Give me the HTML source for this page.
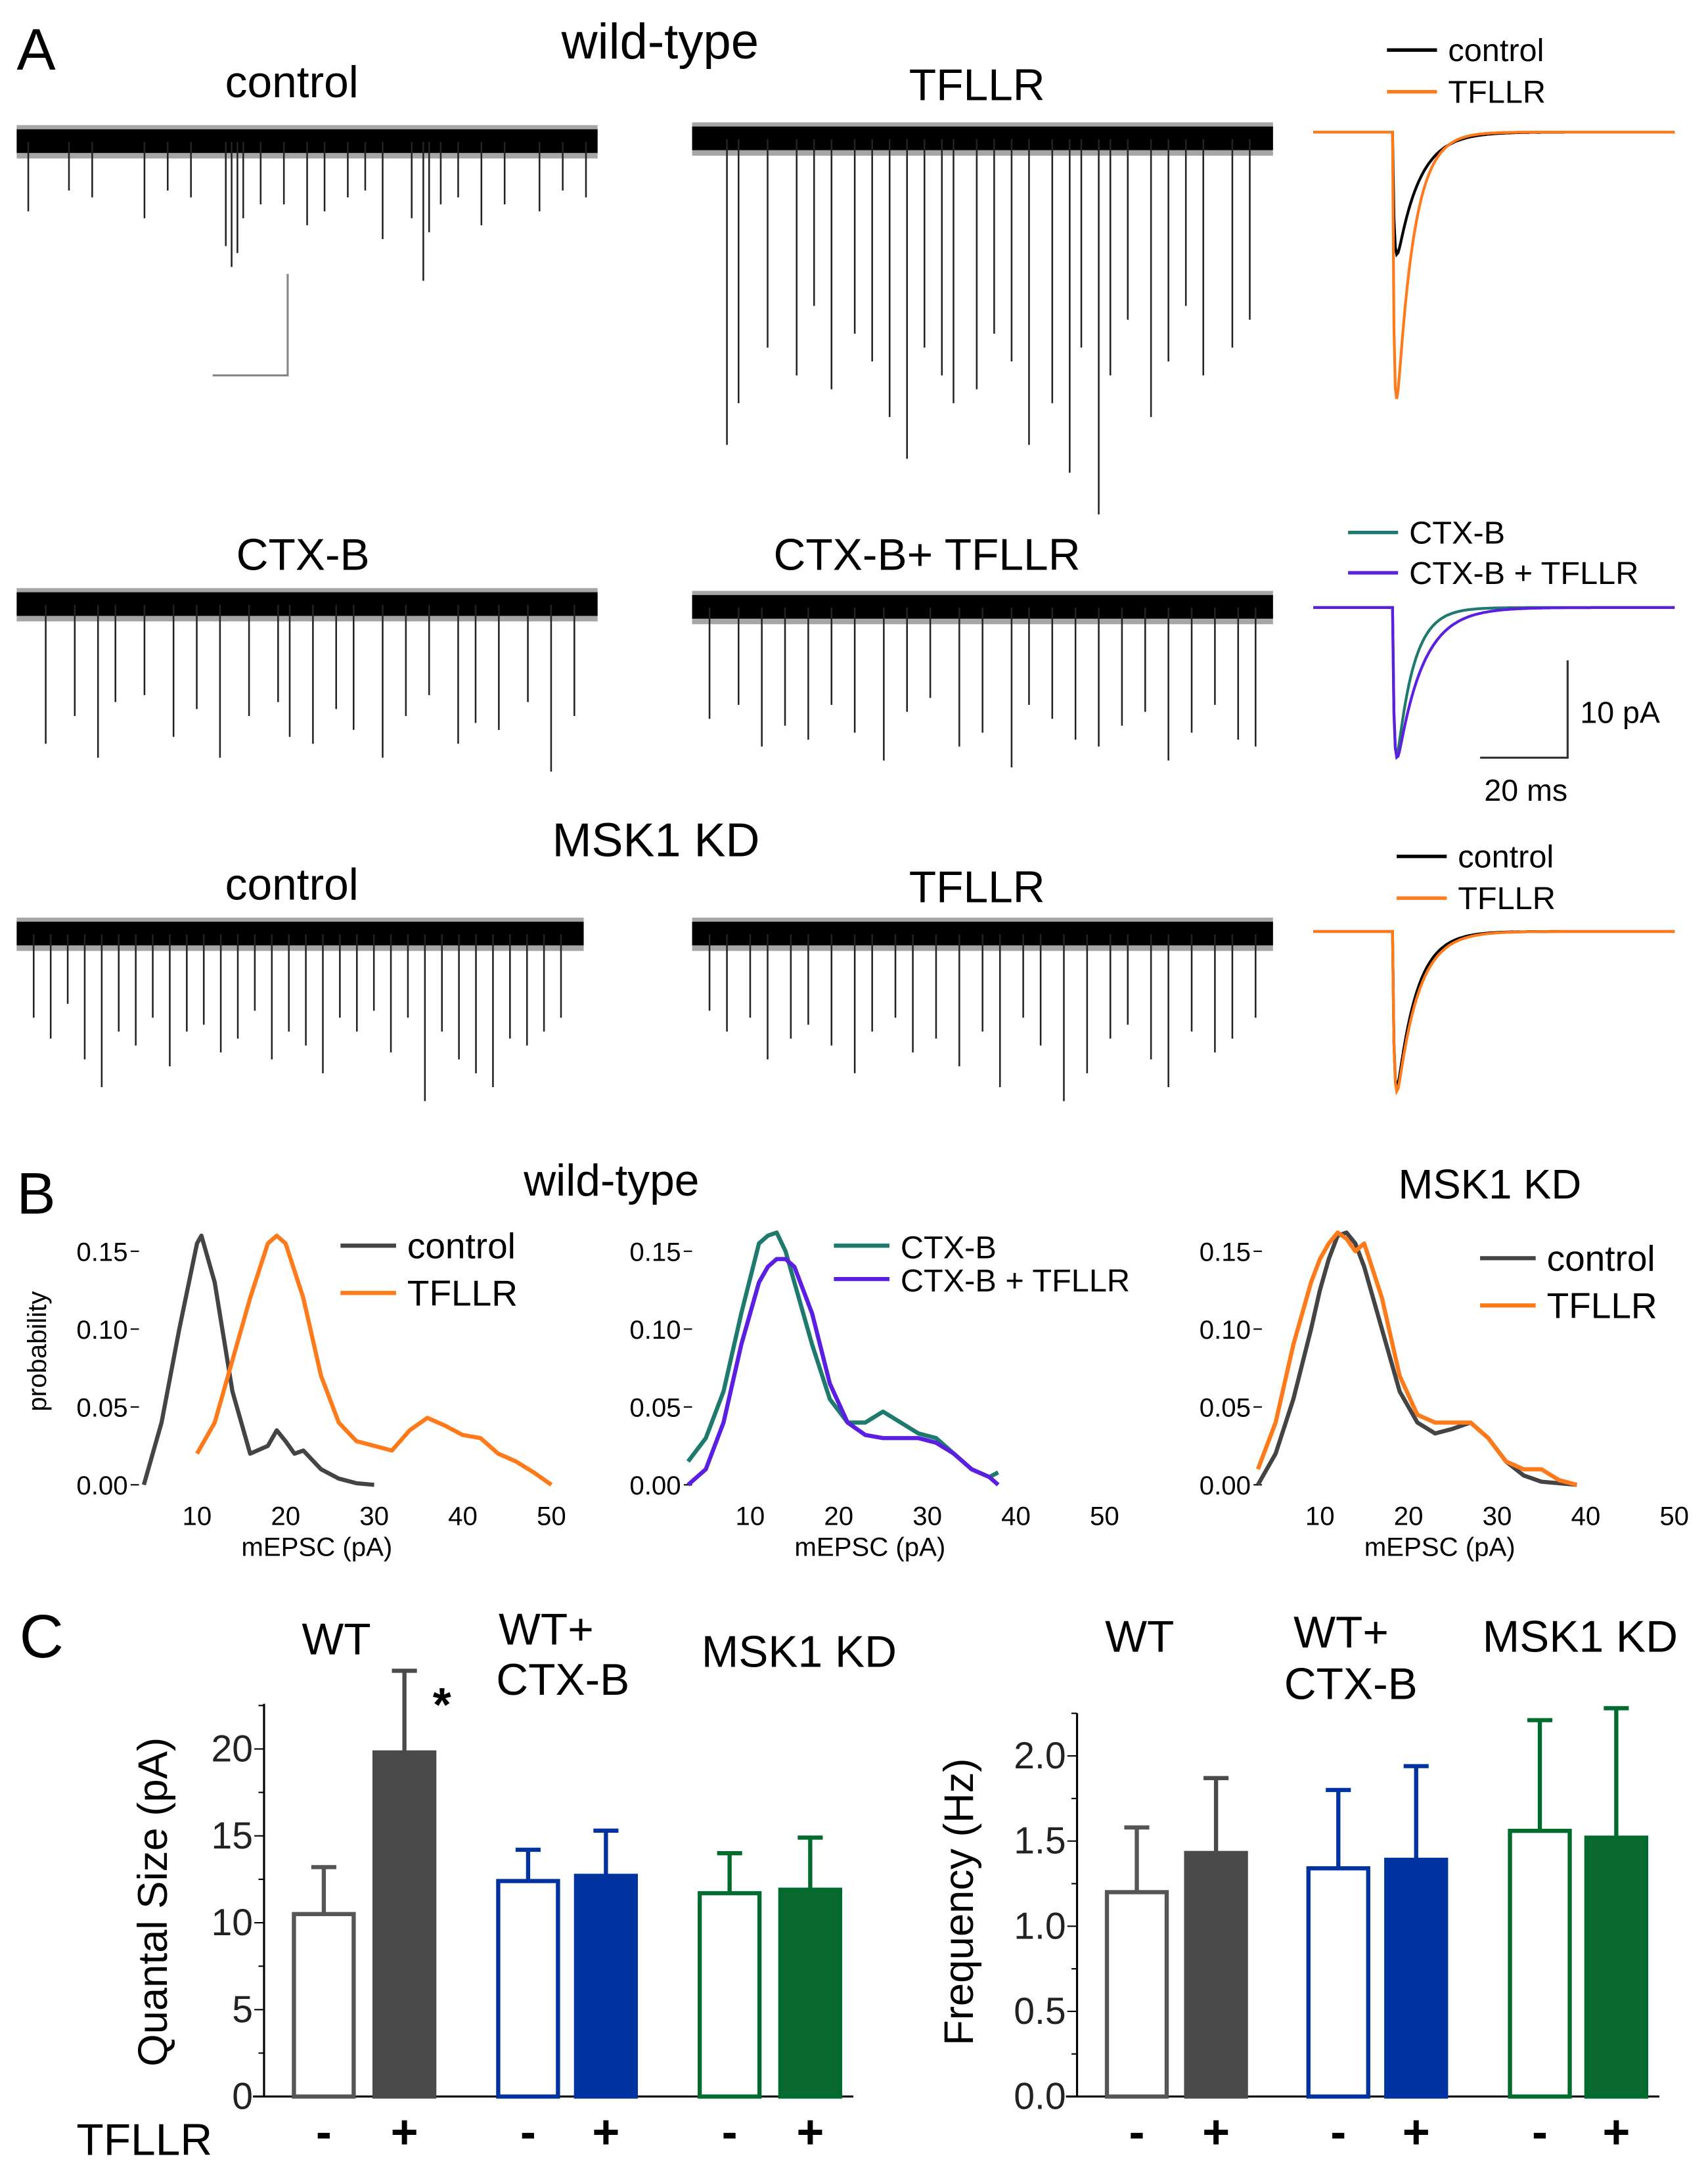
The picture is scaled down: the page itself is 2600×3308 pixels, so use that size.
<!DOCTYPE html>
<html><head><meta charset="utf-8"><style>
html,body{margin:0;padding:0;background:#fff}
svg{display:block}
text{font-family:"Liberation Sans",sans-serif}
</style></head><body>
<svg id="s" width="2600" height="3308" viewBox="0 0 1229 1563" preserveAspectRatio="none" xmlns="http://www.w3.org/2000/svg">
<rect width="1229" height="1563" fill="#fff"/>
<g id="labels" font-size="32" fill="#000">
<text x="12" y="50" font-size="42">A</text>
<text x="475" y="42" text-anchor="middle" font-size="36">wild-type</text>
<text x="210" y="70" text-anchor="middle">control</text>
<text x="703" y="72" text-anchor="middle">TFLLR</text>
<text x="218" y="410" text-anchor="middle">CTX-B</text>
<text x="667" y="410" text-anchor="middle">CTX-B+ TFLLR</text>
<text x="472" y="616" text-anchor="middle" font-size="34">MSK1 KD</text>
<text x="210" y="647" text-anchor="middle">control</text>
<text x="703" y="649" text-anchor="middle">TFLLR</text>
<text x="12" y="873" font-size="42">B</text>
<text x="440" y="860" text-anchor="middle">wild-type</text>
<text x="1072" y="862" text-anchor="middle" font-size="30">MSK1 KD</text>
<text x="14" y="1192" font-size="44">C</text>
</g>
<g id="g"></g>
</svg>
<script>
const NS="http://www.w3.org/2000/svg";
const G=document.getElementById('g');
function mk(t,a,p){const e=document.createElementNS(NS,t);for(const k in a)e.setAttribute(k,a[k]);(p||G).appendChild(e);return e;}

// ---- Trace events (time 0-100, depth px) ----
const tr1T=[2,9,13,22,26,30,36,37,38,39,42,46,50,53,57,60,63,68,70,71,73,76,80,84,90,94,98];
const tr1A=[50,35,40,55,35,40,75,90,80,55,45,45,60,50,40,35,70,55,100,65,45,40,60,45,50,35,40];
const tr2T=[6,8,13,18,21,24,28,31,34,37,40,43,45,49,52,55,58,62,65,67,70,72,75,79,82,85,88,93,96];
const tr2A=[220,190,150,170,120,180,140,160,200,230,150,170,190,180,140,160,220,190,240,150,270,170,130,200,160,120,170,150,130];
const tr3T=[5,10,14,17,22,27,31,35,40,45,47,51,55,58,63,67,71,76,79,83,88,92,96];
const tr3A=[100,80,110,70,65,95,75,110,80,70,95,100,75,90,110,80,65,100,85,90,70,120,80];
const tr4T=[3,8,12,16,20,24,28,33,37,41,46,50,55,58,62,66,70,74,78,82,86,90,94,97];
const tr4A=[80,70,100,85,95,70,90,110,75,65,100,90,115,70,80,95,100,85,75,110,90,70,95,100];
const tr5T=[3,6,9,12,15,18,21,24,27,30,33,36,39,42,45,48,51,54,57,60,63,66,69,72,75,78,81,84,87,90,93,96];
const tr5A=[60,75,50,90,110,70,80,60,95,70,65,85,75,55,90,70,80,100,60,70,55,85,60,120,70,90,100,110,75,80,70,60];
const tr6T=[3,6,10,13,17,20,24,28,31,35,38,42,46,50,53,57,60,64,68,72,75,79,82,86,90,93,97];
const tr6A=[55,70,60,90,75,65,80,100,70,60,85,75,95,70,110,60,80,120,100,75,65,90,110,70,85,75,60];

function trace(name,x0,x1,yc,T,A){
  const g=mk('g',{});
  
  
  mk('rect',{x:x0,y:yc-9,width:x1-x0,height:17,fill:'#000'},g);
  mk('rect',{x:x0,y:yc-12,width:x1-x0,height:24,fill:'#000',opacity:0.35},g);
  T.forEach((t,i)=>{const x=x0+(x1-x0)*t/100;
    const l=mk('line',{x1:x,x2:x,y1:yc,y2:yc+A[i],stroke:'#222','stroke-width':1.2},g);
    
    });
}
trace('trace-wt-control',12,430,102,tr1T,tr1A);
trace('trace-wt-tfllr',498,916,100,tr2T,tr2A);
trace('trace-ctxb',12,430,435,tr3T,tr3A);
trace('trace-ctxb-tfllr',498,916,437,tr4T,tr4A);
trace('trace-msk1-control',12,420,672,tr5T,tr5A);
trace('trace-msk1-tfllr',498,916,672,tr6T,tr6A);
mk('path',{d:'M207 197V270H153',fill:'none',stroke:'#888','stroke-width':1.5});
mk('path',{d:'M1128 475V545H1065',fill:'none',stroke:'#333','stroke-width':1.5});
mk('text',{x:1137,y:520,'font-size':22}).textContent='10 pA';
mk('text',{x:1068,y:576,'font-size':22}).textContent='20 ms';

// ---- averaged mEPSCs: amplitude (px), decay ----
const avgAmp=[[88,192],[106,108],[112,115]];
const avgTau=[[16,12],[12,18],[14,15]];
const avgCol=[['#000','#ff7a1a'],['#1f7a6e','#5a1fe0'],['#000','#ff7a1a']];
const avgBase=[95,437,670];
const avgNames=[['control','TFLLR'],['CTX-B','CTX-B + TFLLR'],['control','TFLLR']];
const legY=[[36,66],[383,412],[616,646]];
const legX=[998,970,1005];
avgBase.forEach((b,r)=>{
  [0,1].forEach(s=>{
    let d='';const x0=945,x1=1205,on=1002,tau=avgTau[r][s];
    const f=t=>(1-Math.exp(-t/1.2))*Math.exp(-t/tau);
    let mx=0;for(let t=0;t<40;t+=0.1)mx=Math.max(mx,f(t));
    for(let x=x0;x<=x1;x+=1){let y=b;if(x>=on){y=b+avgAmp[r][s]*f(x-on)/mx;}
      d+=(x==x0?'M':'L')+x+' '+y.toFixed(1);}
    const p=mk('path',{d,fill:'none',stroke:avgCol[r][s],'stroke-width':2});
    
    
    const lx=legX[r];
    mk('line',{x1:lx,x2:lx+36,y1:legY[r][s],y2:legY[r][s],stroke:avgCol[r][s],'stroke-width':2.5});
    const t=mk('text',{x:lx+44,y:legY[r][s]+8,'font-size':23});t.textContent=avgNames[r][s];
    
    
  });
});

// ---- B: distributions ----
const bX=[4,6,8,10,10.5,12,14,16,18,19,20,21,22,24,26,28,30];
const bWtCtl=[0,0.04,0.1,0.155,0.16,0.13,0.06,0.02,0.025,0.035,0.028,0.02,0.022,0.01,0.004,0.001,0];
const bX2=[10,12,14,16,18,19,20,22,24,26,28,30,32,34,36,38,40,42,44,46,48,50];
const bWtTf=[0.02,0.04,0.08,0.12,0.155,0.16,0.155,0.12,0.07,0.04,0.028,0.025,0.022,0.035,0.043,0.038,0.032,0.03,0.02,0.015,0.008,0];
const bX3=[3,5,7,9,11,12,13,14,15,17,19,21,23,25,27,29,31,33,35,37,38];
const bCtx=[0.015,0.03,0.06,0.11,0.155,0.16,0.162,0.15,0.13,0.09,0.055,0.04,0.04,0.047,0.04,0.033,0.03,0.02,0.01,0.005,0.008];
const bCtxTf=[0,0.01,0.04,0.09,0.13,0.14,0.145,0.145,0.14,0.11,0.065,0.04,0.032,0.03,0.03,0.03,0.027,0.02,0.01,0.005,0];
const bX4=[3,5,7,9,10,11,12,13,14,15,17,19,21,23,25,27,29,31,33,35,37,39];
const bKdCtl=[0,0.02,0.055,0.1,0.125,0.145,0.16,0.162,0.155,0.14,0.1,0.06,0.04,0.033,0.036,0.04,0.03,0.015,0.006,0.002,0.001,0];
const bKdTf=[0.01,0.04,0.09,0.13,0.145,0.155,0.162,0.158,0.15,0.155,0.12,0.07,0.045,0.04,0.04,0.04,0.03,0.015,0.01,0.01,0.003,0];
const xTicks=[10,20,30,40,50];
const yTicks=[0,0.05,0.10,0.15];
const yTickLab=['0.00','0.05','0.10','0.15'];
const bPanels=[{x0:78,s:[[bX,bWtCtl,'#444'],[bX2,bWtTf,'#ff7a1a']],leg:[['control','#444'],['TFLLR','#ff7a1a']],lx:245,ly:896},
 {x0:476,s:[[bX3,bCtx,'#1f7a6e'],[bX3,bCtxTf,'#5a1fe0']],leg:[['CTX-B','#1f7a6e'],['CTX-B + TFLLR','#5a1fe0']],lx:600,ly:896,small:1},
 {x0:886,s:[[bX4,bKdCtl,'#444'],[bX4,bKdTf,'#ff7a1a']],leg:[['control','#444'],['TFLLR','#ff7a1a']],lx:1065,ly:905}];
bPanels.forEach((P,pi)=>{
  const sx=v=>P.x0+v*6.375, sy=v=>1068-v*1120;
  yTicks.forEach((v,i)=>{mk('line',{x1:P.x0+16,x2:P.x0+22,y1:sy(v),y2:sy(v),stroke:'#000'});
    mk('text',{x:P.x0+14,y:sy(v)+7,'text-anchor':'end','font-size':19}).textContent=yTickLab[i];});
  xTicks.forEach(v=>{mk('text',{x:sx(v),y:1097,'text-anchor':'middle','font-size':19}).textContent=v;});
  mk('text',{x:P.x0+150,y:1119,'text-anchor':'middle','font-size':19}).textContent='mEPSC (pA)';
  P.s.forEach(([X,Y,c])=>{const p=mk('path',{d:X.map((x,i)=>(i?'L':'M')+sx(x)+' '+sy(Y[i])).join(''),fill:'none',stroke:c,'stroke-width':3,'stroke-linejoin':'round'});
    
    });
  P.leg.forEach(([n,c],i)=>{const y=P.ly+i*(P.small?24:34);
    mk('line',{x1:P.lx,x2:P.lx+40,y1:y,y2:y,stroke:c,'stroke-width':3});
    mk('text',{x:P.lx+48,y:y+9,'font-size':P.small?23:26}).textContent=n;});
});
mk('text',{x:0,y:0,'font-size':19,transform:'translate(33 972) rotate(-90)','text-anchor':'middle'}).textContent='probability';

// ---- C: bars ----
const qsVal=[10.5,19.8,12.4,12.7,11.7,11.9];
const qsErr=[13.2,24.5,14.2,15.3,14.0,14.9];
const frVal=[1.2,1.43,1.34,1.39,1.56,1.52];
const frErr=[1.58,1.87,1.8,1.94,2.21,2.28];
const barStroke=['#555','#4a4a4a','#0033a0','#0033a0','#006b2e','#006b2e'];
const barFill=['#fff','#4a4a4a','#fff','#0033a0','#fff','#0a6a30'];
const signs=['-','+','-','+','-','+'];
function barChart(name,ax,ay,yMax,ppu,ticks,tickLab,minor,bx,vals,errs,label,lx){
  mk('line',{x1:ax,x2:ax,y1:ay,y2:ay-yMax*ppu,stroke:'#000','stroke-width':1.5});
  mk('line',{x1:ax-8,x2:bx[5]+54,y1:ay,y2:ay,stroke:'#000','stroke-width':1.5});
  ticks.forEach((v,i)=>{mk('line',{x1:ax-7,x2:ax,y1:ay-v*ppu,y2:ay-v*ppu,stroke:'#000'});
    mk('text',{x:ax-8,y:ay-v*ppu+9,'text-anchor':'end','font-size':27,fill:'#222'}).textContent=tickLab[i];});
  minor.forEach(v=>mk('line',{x1:ax-4,x2:ax,y1:ay-v*ppu,y2:ay-v*ppu,stroke:'#000'}));
  vals.forEach((v,i)=>{const x=bx[i],w=46,top=ay-v*ppu,e=ay-errs[i]*ppu;
    mk('line',{x1:x+w/2,x2:x+w/2,y1:top,y2:e,stroke:barStroke[i],'stroke-width':3});
    mk('line',{x1:x+w/2-9,x2:x+w/2+9,y1:e,y2:e,stroke:barStroke[i],'stroke-width':3});
    const r=mk('rect',{x:x+1.5,y:top,width:w-3,height:ay-top,fill:barFill[i],stroke:barStroke[i],'stroke-width':3});
    
    
    mk('text',{x:x+w/2,y:1545,'text-anchor':'middle','font-size':34,'font-weight':'bold'}).textContent=signs[i];
  });
  mk('text',{x:0,y:0,'font-size':30,transform:`translate(${lx} ${ay-140}) rotate(-90)`,'text-anchor':'middle'}).textContent=label;
}
barChart('quantal',190,1508,22.6,12.5,[0,5,10,15,20],['0','5','10','15','20'],[2.5,7.5,12.5,17.5,22.5],[210,268,357,413,502,560],qsVal,qsErr,'Quantal Size (pA)',120);
barChart('frequency',775,1508,2.25,122.5,[0,0.5,1,1.5,2],['0.0','0.5','1.0','1.5','2.0'],[0.25,0.75,1.25,1.75,2.25],[795,852,940,996,1085,1140],frVal,frErr,'Frequency (Hz)',700);
const T=(x,y,s,a)=>{const e=mk('text',{x,y,'font-size':32,'text-anchor':a||'middle'});e.textContent=s;return e;};
T(242,1190,'WT');T(393,1183,'WT+');T(405,1219,'CTX-B');T(575,1199,'MSK1 KD');
T(820,1188,'WT');T(965,1185,'WT+');T(972,1222,'CTX-B');T(1137,1188,'MSK1 KD');
T(55,1550,'TFLLR','start');
mk('text',{x:318,y:1238,'font-size':34,'text-anchor':'middle','font-weight':'bold'}).textContent='*';
</script>
</body></html>
